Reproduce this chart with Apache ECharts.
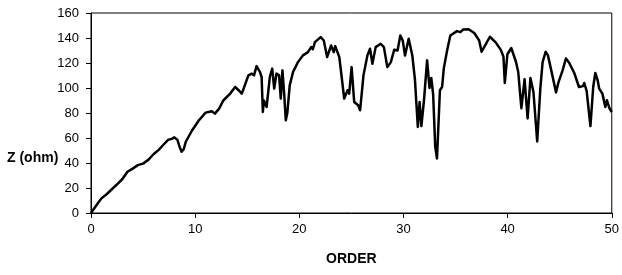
<!DOCTYPE html>
<html>
<head>
<meta charset="utf-8">
<script src="https://cdn.jsdelivr.net/npm/echarts@6/dist/echarts.min.js"></script>
<style>
html,body{margin:0;padding:0;background:#fff;}
#chart{width:622px;height:275px;}
</style>
</head>
<body>
<div id="chart"></div>
<script>
// order values (x) and impedance (y)
var orderX = [0,0.5,1.0,1.5,2.0,2.6,3.0,3.5,4.0,4.5,5.0,5.5,6.0,6.5,7.0,7.4,7.8,8.0,8.3,8.5,8.7,8.9,9.1,9.7,10.35,11.0,11.6,11.9,12.3,12.7,13.36,13.84,14.2,14.48,15.11,15.43,15.65,15.9,16.22,16.38,16.5,16.6,16.7,16.86,17.17,17.4,17.59,17.81,18.06,18.22,18.38,18.55,18.7,18.85,19.08,19.4,19.87,20.35,20.83,21.14,21.3,21.5,22.05,22.35,22.67,23.05,23.3,23.45,23.84,24.05,24.31,24.63,24.79,25.02,25.27,25.65,25.84,26.16,26.54,26.79,27.02,27.33,27.81,28.12,28.45,28.79,29.11,29.43,29.7,29.93,30.15,30.5,30.85,31.1,31.38,31.55,31.72,31.97,32.27,32.5,32.67,32.85,33.05,33.22,33.5,33.71,33.87,34.19,34.5,35.14,35.46,35.74,36.26,36.8,37.27,37.5,37.75,38.3,38.85,39.35,39.6,39.73,39.98,40.35,40.8,41.02,41.32,41.63,41.92,42.19,42.48,42.84,43.14,43.36,43.65,43.87,44.19,44.65,44.88,45.28,45.6,45.92,46.4,46.85,47.24,47.36,47.59,47.95,48.22,48.42,48.65,48.79,49.1,49.38,49.53,49.78,50];
var zOhm = [0,6,11.7,15,19,23.7,27,33,35.5,38.3,39.5,42.5,47,50.5,55,58.5,59.5,60.5,58.5,53,49,51,57,66,74,80.3,81.4,79.5,83.5,90,95.5,100.8,98,95.5,110.1,111.5,110.1,117.5,112.8,108.8,80.8,90,88.8,84.8,108.8,115.5,99.5,111.5,110.1,91.5,114.1,95,74.2,80,102.1,112.8,120.7,126.1,128.7,132.7,131,136.7,140.7,138,124.7,134,128.7,133.5,124.7,110,91.5,98.2,95.5,116.7,88.8,86.2,82.2,110.1,126.1,131.4,119.4,132.7,135.4,132.7,116.7,120.7,130.6,130,142,138,126,139.4,126,107,68.9,88.8,69.5,90.2,122.1,100,108,95,52.9,43.6,98.2,100.8,115.5,130,142,145.5,144.7,146.8,147,144,138,129,132.7,141,136.5,130.5,125,104,127,132,121,112.8,83.8,107,75.6,108,96.8,57.2,99.5,120.7,129,126.1,114.1,96.5,104.5,114.1,123.7,120,112,100.8,101.5,104,97.5,69.5,101,112,106,99.5,95.5,84.8,90.2,83.8,80.8];
var xTicks = [0,10,20,30,40,50];
var yTicks = [0,20,40,60,80,100,120,140,160];

var pts = [];
for (var i = 0; i < orderX.length; i++) { pts.push([orderX[i], zOhm[i]]); }

var MyEchart = echarts.init(document.getElementById('chart'));
var option = {
	animation: false,
	grid: {
		left: 91,
		right: 6,
		top: 13,
		bottom: 62,
		show: true,
		borderColor: '#000',
		borderWidth: 1
	},
	// x轴
	xAxis: {
		type: 'value',
		min: xTicks[0],
		max: xTicks[xTicks.length - 1],
		interval: 10,
		name: 'ORDER',
		nameLocation: 'middle',
		nameGap: 39,
		nameTextStyle: {fontFamily: 'Liberation Sans', fontSize: 14, fontWeight: 'bold', color: '#000'},
		splitLine: {show: false},
		axisLine: {show: true, lineStyle: {color: '#000', width: 1}},
		axisTick: {show: true, inside: false, length: 5, lineStyle: {color: '#000'}},
		axisLabel: {margin: 10, fontFamily: 'Liberation Sans', fontSize: 13, color: '#000'}
	},
	// y轴
	yAxis: {
		type: 'value',
		min: yTicks[0],
		max: yTicks[yTicks.length - 1],
		interval: 20,
		splitLine: {show: false},
		axisLine: {show: true, lineStyle: {color: '#000', width: 1}},
		axisTick: {show: true, inside: false, length: 5, lineStyle: {color: '#000'}},
		axisLabel: {margin: 12, fontFamily: 'Liberation Sans', fontSize: 13, color: '#000'}
	},
	graphic: [{
		type: 'text',
		left: 7,
		top: 151,
		style: {text: 'Z (ohm)', font: 'bold 14px "Liberation Sans"', fill: '#000'}
	}],
	series: [{
		type: 'line',
		data: pts,
		showSymbol: false,
		symbol: 'none',
		lineStyle: {color: '#000', width: 2.5, join: 'round'},
		z: 3
	}]
};
MyEchart.setOption(option);
</script>
</body>
</html>
